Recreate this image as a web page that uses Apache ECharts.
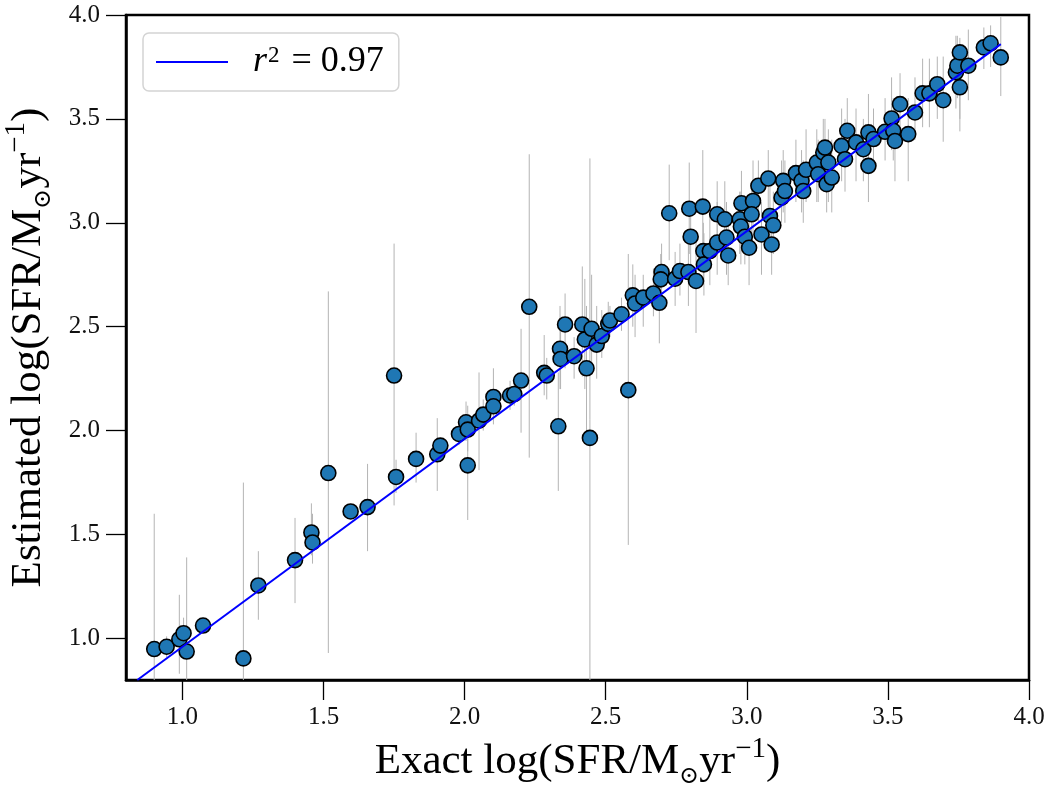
<!DOCTYPE html>
<html>
<head>
<meta charset="utf-8">
<title>SFR estimate</title>
<script src="https://cdn.jsdelivr.net/npm/echarts@6/dist/echarts.min.js"></script>
<style>
  html, body { margin: 0; padding: 0; background: #fff; }
  #chart { width: 1050px; height: 800px; }
</style>
</head>
<body>
<div id="chart"></div>
<script>
// exact log SFR (x) and estimated log SFR (y)
const exactX = [
  0.900, 0.944, 0.989, 1.004, 1.015, 1.073, 1.216, 1.269, 1.399, 1.457,
  1.461, 1.517, 1.596, 1.656, 1.750, 1.757, 1.828, 1.903, 1.914, 1.980,
  2.005, 2.011, 2.011, 2.051, 2.066, 2.102, 2.102, 2.161, 2.176, 2.200,
  2.229, 2.282, 2.291, 2.332, 2.338, 2.340, 2.356, 2.388, 2.417, 2.426,
  2.432, 2.444, 2.450, 2.468, 2.486, 2.509, 2.515, 2.556, 2.580, 2.596,
  2.604, 2.633, 2.669, 2.690, 2.698, 2.695, 2.725, 2.746, 2.763, 2.793,
  2.796, 2.801, 2.820, 2.844, 2.846, 2.848, 2.869, 2.895, 2.895, 2.922,
  2.928, 2.934, 2.981, 2.975, 2.979, 2.993, 3.008, 3.022, 3.017, 3.041,
  3.052, 3.076, 3.082, 3.094, 3.088, 3.123, 3.129, 3.135, 3.174, 3.194,
  3.210, 3.200, 3.248, 3.253, 3.271, 3.277, 3.289, 3.283, 3.301, 3.336,
  3.348, 3.356, 3.387, 3.413, 3.431, 3.431, 3.449, 3.490, 3.513, 3.519,
  3.525, 3.543, 3.572, 3.596, 3.623, 3.647, 3.675, 3.696, 3.741, 3.746,
  3.755, 3.755, 3.785, 3.840, 3.864, 3.900
];
const estimatedY = [
  0.949, 0.960, 0.996, 1.025, 0.937, 1.062, 0.904, 1.255, 1.377, 1.510,
  1.462, 1.796, 1.611, 1.632, 2.265, 1.777, 1.864, 1.886, 1.928, 1.984,
  2.040, 2.005, 1.833, 2.048, 2.077, 2.162, 2.117, 2.169, 2.176, 2.241,
  2.596, 2.278, 2.265, 2.021, 2.394, 2.345, 2.511, 2.358, 2.511, 2.439,
  2.300, 1.965, 2.490, 2.414, 2.455, 2.514, 2.530, 2.560, 2.195, 2.651,
  2.612, 2.640, 2.660, 2.615, 2.763, 2.728, 3.046, 2.731, 2.768, 2.763,
  3.068, 2.933, 2.720, 3.078, 2.864, 2.800, 2.864, 3.041, 2.905, 3.017,
  2.929, 2.843, 3.094, 3.017, 2.982, 2.933, 2.880, 3.105, 3.041, 3.178,
  2.944, 3.213, 3.033, 2.988, 2.896, 3.121, 3.202, 3.153, 3.239, 3.202,
  3.255, 3.153, 3.290, 3.234, 3.338, 3.362, 3.290, 3.186, 3.218, 3.370,
  3.306, 3.443, 3.387, 3.354, 3.435, 3.274, 3.403, 3.438, 3.502, 3.443,
  3.394, 3.571, 3.427, 3.531, 3.623, 3.623, 3.667, 3.590, 3.724, 3.756,
  3.820, 3.652, 3.756, 3.844, 3.864, 3.796
];
// error bar ends (lower, upper)
const errLow = [
  0.30, 0.91, 0.83, 0.95, 0.50, 1.03, 0.50, 1.09, 1.17, 1.40,
  1.36, 0.93, 1.58, 1.42, 1.64, 1.70, 1.75, 1.71, 1.85, 1.93,
  1.95, 1.90, 1.57, 1.81, 2.00, 2.05, 2.03, 2.10, 2.12, 1.99,
  1.87, 2.17, 2.15, 1.71, 2.20, 2.20, 2.30, 2.25, 2.26, 2.20,
  2.00, 0.50, 2.30, 2.25, 2.35, 2.43, 2.45, 2.48, 1.45, 2.50,
  2.45, 2.50, 2.55, 2.42, 2.60, 2.60, 2.82, 2.60, 2.65, 2.60,
  2.85, 2.75, 2.47, 2.85, 2.70, 2.65, 2.70, 2.85, 2.75, 2.85,
  2.75, 2.70, 2.95, 2.85, 2.80, 2.80, 2.70, 2.95, 2.90, 3.00,
  2.75, 3.05, 2.90, 2.85, 2.75, 3.00, 3.05, 3.00, 3.10, 3.05,
  3.10, 3.00, 3.10, 3.10, 3.20, 3.20, 3.10, 3.05, 3.05, 3.20,
  3.15, 3.30, 3.20, 3.20, 3.25, 3.10, 3.25, 3.30, 3.35, 3.30,
  3.20, 3.40, 3.20, 3.40, 3.46, 3.46, 3.50, 3.39, 3.55, 3.60,
  3.44, 3.50, 3.59, 3.74, 3.75, 3.61
];
const errHigh = [
  1.60, 1.01, 1.21, 1.10, 1.39, 1.10, 1.75, 1.42, 1.58, 1.65,
  1.60, 2.67, 1.64, 1.84, 2.90, 1.86, 1.99, 2.06, 1.96, 2.03,
  2.14, 2.12, 2.05, 2.28, 2.15, 2.30, 2.20, 2.24, 2.25, 2.49,
  3.33, 2.46, 2.35, 2.28, 2.60, 2.50, 2.66, 2.45, 2.79, 2.73,
  2.60, 3.31, 2.75, 2.60, 2.58, 2.62, 2.60, 2.64, 2.85, 2.80,
  2.75, 2.75, 2.78, 2.74, 2.90, 2.85, 3.28, 2.86, 2.90, 2.90,
  3.29, 3.10, 2.95, 3.35, 3.00, 2.95, 3.05, 3.20, 3.10, 3.20,
  3.10, 3.00, 3.25, 3.15, 3.15, 3.10, 3.05, 3.30, 3.20, 3.30,
  3.10, 3.35, 3.20, 3.15, 3.05, 3.30, 3.35, 3.30, 3.40, 3.35,
  3.45, 3.30, 3.45, 3.40, 3.50, 3.50, 3.45, 3.35, 3.40, 3.55,
  3.50, 3.60, 3.55, 3.50, 3.62, 3.40, 3.55, 3.60, 3.70, 3.60,
  3.55, 3.72, 3.60, 3.70, 3.79, 3.79, 3.80, 3.80, 3.90, 3.90,
  3.89, 3.85, 3.93, 3.94, 3.95, 3.99
];
// fitted line ends
const fitX = [0.84, 3.90];
const fitY = [0.80, 3.86];
const xTicks = [1.0, 1.5, 2.0, 2.5, 3.0, 3.5, 4.0];
const yTicks = [1.0, 1.5, 2.0, 2.5, 3.0, 3.5, 4.0];
const legendLabel = 'r2 = 0.97';

const serif = '"Liberation Serif", "DejaVu Serif", serif';
const AX_MIN = 0.8, AX_MAX = 4.0;

const points = exactX.map((x, i) => [x, estimatedY[i]]);
const bars = exactX.map((x, i) => [x, errLow[i], errHigh[i]]);
const fitLine = fitX.map((x, i) => [x, fitY[i]]);

const nameRich = {
  t: { fontFamily: serif, fontSize: 43, color: '#000', lineHeight: 54 },
  sub: { fontFamily: '"DejaVu Serif", serif', fontSize: 24, color: '#000', verticalAlign: 'bottom', lineHeight: 50 },
  sup: { fontFamily: serif, fontSize: 29, color: '#000', verticalAlign: 'top', lineHeight: 54 }
};
const nameOf = (w) => '{t|' + w + ' log(SFR/M}{sub|⊙}{t|yr}{sup|−1}{t|)}';

const axisCommon = {
  type: 'value',
  min: AX_MIN,
  max: AX_MAX,
  nameLocation: 'middle',
  axisLine: { show: true, onZero: false, lineStyle: { color: '#000', width: 2.5 } },
  axisTick: { show: true, inside: false, length: 20, lineStyle: { color: '#000', width: 1.3 } },
  splitLine: { show: false },
  nameTextStyle: { rich: nameRich }
};

const chart = echarts.init(document.getElementById('chart'));
chart.setOption({
  animation: false,
  backgroundColor: '#fff',
  grid: {
    left: 126, right: 21, top: 15, bottom: 120,
    outerBoundsMode: 'none',
    show: true, borderColor: '#000', borderWidth: 2.5, backgroundColor: 'transparent'
  },
  legend: {
    left: 143, top: 33,
    padding: [11, 15, 11, 13],
    backgroundColor: '#fff',
    borderColor: '#d4d4d4', borderWidth: 1.5, borderRadius: 6,
    itemWidth: 72, itemHeight: 2,
    data: [{ name: legendLabel, icon: 'rect' }],
    formatter: () => '{i|r}{s|2}{n|= 0.97}',
    textStyle: {
      rich: {
        i: { fontFamily: serif, fontStyle: 'italic', fontSize: 36, color: '#000', padding: [0, 0, 0, 20], lineHeight: 36 },
        s: { fontFamily: serif, fontSize: 23, color: '#000', verticalAlign: 'top', lineHeight: 36, padding: [0, 12, 0, 1] },
        n: { fontFamily: serif, fontSize: 36, color: '#000', lineHeight: 36 }
      }
    }
  },
  xAxis: Object.assign({}, axisCommon, {
    name: nameOf('Exact'),
    nameGap: 44,
    axisTick: Object.assign({}, axisCommon.axisTick, { customValues: xTicks }),
    axisLabel: {
      customValues: xTicks, margin: 25,
      fontFamily: serif, fontSize: 25, color: '#111',
      formatter: (v) => v.toFixed(1)
    }
  }),
  yAxis: Object.assign({}, axisCommon, {
    name: nameOf('Estimated'),
    nameGap: 70,
    axisTick: Object.assign({}, axisCommon.axisTick, { customValues: yTicks }),
    axisLabel: {
      customValues: yTicks, margin: 26,
      fontFamily: serif, fontSize: 25, color: '#111',
      formatter: (v) => v.toFixed(1)
    }
  }),
  series: [
    {
      type: 'custom',
      name: 'errors',
      z: 1,
      silent: true,
      data: bars,
      renderItem: (params, api) => {
        const x = api.value(0);
        const lo = Math.max(api.value(1), AX_MIN);
        const hi = Math.min(api.value(2), AX_MAX);
        const p1 = api.coord([x, lo]);
        const p2 = api.coord([x, hi]);
        return {
          type: 'line',
          shape: { x1: p1[0], y1: p1[1], x2: p2[0], y2: p2[1] },
          style: { stroke: '#b4b4b4', lineWidth: 1 }
        };
      }
    },
    {
      type: 'scatter',
      name: 'points',
      z: 2,
      symbol: 'circle',
      symbolSize: 15,
      itemStyle: { color: '#1f77b4', borderColor: '#000', borderWidth: 1.6, opacity: 1 },
      data: points
    },
    {
      type: 'line',
      name: legendLabel,
      z: 3,
      showSymbol: false,
      symbol: 'none',
      color: '#0000ff',
      lineStyle: { color: '#0000ff', width: 2 },
      data: fitLine
    }
  ]
});
</script>
</body>
</html>
